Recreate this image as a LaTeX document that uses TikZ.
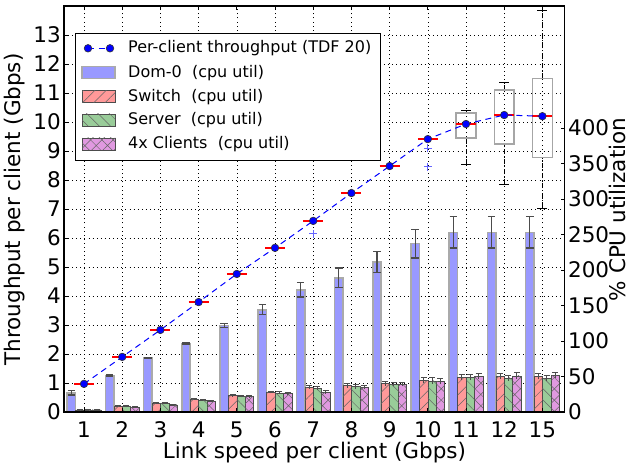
\documentclass[tikz,border=0pt]{standalone}
\usepackage{fontspec}
\setmainfont{DejaVu Sans}
\usetikzlibrary{patterns.meta}
\definecolor{domblue}{RGB}{153,153,255}
\definecolor{swred}{RGB}{255,153,153}
\definecolor{svgreen}{RGB}{153,204,153}
\definecolor{clpink}{RGB}{224,153,224}
\definecolor{baredge}{RGB}{170,170,170}
\tikzset{
  ticklab/.style={font=\fontsize{21.5}{24}\selectfont,inner sep=0pt},
  axlab/.style={font=\fontsize{21.5}{24}\selectfont,inner sep=0pt},
  leglab/.style={font=\fontsize{16}{19}\selectfont,inner sep=0pt,anchor=west},
  gridline/.style={black,line width=0.6pt,dash pattern=on 0.9pt off 3.2pt},
  dombar/.style={fill=domblue,draw=baredge,line width=1.5pt},
  swbar/.style={fill=swred,draw=black!70,line width=0.5pt,
    postaction={pattern color=black!60,pattern={Lines[angle=45,distance=8pt,line width=0.5pt]}}},
  svbar/.style={fill=svgreen,draw=black!70,line width=0.5pt,
    postaction={pattern color=black!60,pattern={Lines[angle=-45,distance=8pt,line width=0.5pt]}}},
  clbar/.style={fill=clpink,draw=black!70,line width=0.5pt,
    postaction={pattern color=black!60,pattern={Hatch[angle=45,distance=8pt,line width=0.5pt]}}},
  errline/.style={black!70,line width=1.3pt},
  thruline/.style={blue,line width=1pt,dash pattern=on 6pt off 4.5pt},
  thrumark/.style={fill=blue,draw=black!80,line width=0.6pt},
  median/.style={red,line width=1.4pt},
  whisker/.style={black,line width=1pt,dash pattern=on 5pt off 2pt on 1pt off 2pt},
  whiskcap/.style={black,line width=1pt},
  boxline/.style={draw=gray!70,line width=1.3pt},
  outlier/.style={blue!60,line width=1pt}
}
\begin{document}
\begin{tikzpicture}[x=1pt,y=1pt]
\path[use as bounding box] (0,0) rectangle (631,468);

% data area: categories along x, Gbps along y
\begin{scope}[shift={(45.8pt,56pt)},x=38.2pt,y=29pt]
\foreach \k in {1,...,13}
  \draw[gridline] (\k,0) -- (\k,14);
\foreach \v in {1,...,13}
  \draw[gridline] (0.476,\v) -- (13.59,\v);

% cpu bars, in percent
\begin{scope}[y=0.71pt]
\foreach \k/\d/\de/\s/\v/\c/\e in {1/27/3/3/3/3/1, 2/51/1/7.5/8/6.5/1, 3/76/1/12/12/10/1,
    4/96/1/18/16.5/15/1, 5/122/3/23/22/21.5/1.5, 6/144/7/28/27/26/1.5, 7/172/10/35/33/28/2.5,
    8/189/14/37/36/35/3, 9/211/15/40/39/39/3, 10/237/20/45/44/43/4, 11/253/22/49/49/50/4,
    12/253/22/50/48/51/4, 13/253/22/50/47/52/4} {
  \draw[dombar] (\k-0.44,0) rectangle (\k-0.22,\d);
  \draw[swbar] (\k-0.22,0) rectangle (\k,\s);
  \draw[svbar] (\k,0) rectangle (\k+0.22,\v);
  \draw[clbar] (\k+0.22,0) rectangle (\k+0.44,\c);
  \draw[errline] (\k-0.33,\d-\de) -- (\k-0.33,\d+\de)
    (\k-0.43,\d-\de) -- (\k-0.23,\d-\de) (\k-0.43,\d+\de) -- (\k-0.23,\d+\de);
  \draw[errline,line width=1pt] (\k-0.11,\s-\e) -- (\k-0.11,\s+\e)
    (\k-0.19,\s+\e) -- (\k-0.03,\s+\e)
    (\k+0.11,\v-\e) -- (\k+0.11,\v+\e) (\k+0.03,\v+\e) -- (\k+0.19,\v+\e)
    (\k+0.33,\c-\e) -- (\k+0.33,\c+\e) (\k+0.25,\c+\e) -- (\k+0.41,\c+\e);
}
\end{scope}

% box plots
\foreach \k/\lo/\qa/\qb/\hi in {11/8.55/9.45/10.31/10.41, 12/7.85/9.24/11.1/11.37,
    13/7.03/8.77/11.5/13.83} {
  \draw[whisker] (\k,\lo) -- (\k,\qa) (\k,\qb) -- (\k,\hi);
  \draw[whiskcap] (\k-0.13,\lo) -- (\k+0.13,\lo) (\k-0.13,\hi) -- (\k+0.13,\hi);
  \draw[boxline] (\k-0.26,\qa) rectangle (\k+0.26,\qb);
}
\foreach \k/\t in {7/6.14, 10/9.1, 10/8.45}
  \draw[outlier] (\k-0.1,\t) -- (\k+0.1,\t) (\k,\t-0.14) -- (\k,\t+0.14);

% throughput
\foreach \k/\t in {1/0.97, 2/1.9, 3/2.83, 4/3.79, 5/4.76, 6/5.66, 7/6.59, 8/7.55,
    9/8.48, 10/9.41, 11/9.93, 12/10.24, 13/10.2} {
  \coordinate (t\k) at (\k,\t);
  \draw[median] (\k-0.26,\t) -- (\k+0.26,\t);
}
\draw[thruline] (t1) \foreach \k in {2,...,13} { -- (t\k) };
\foreach \k in {1,...,13}
  \draw[thrumark] (t\k) circle (3.8pt);

% frame and ticks
\draw[line width=1.1pt] (0.476,0) rectangle (13.59,14);
\foreach \v in {0,...,13} {
  \draw[line width=0.8pt] (0.476,\v) -- ++(4pt,0);
  \node[ticklab,anchor=east] (yl\v) at ([xshift=-3pt]0.476,\v) {\v};
}
\foreach \k/\l in {1/1,2/2,3/3,4/4,5/5,6/6,7/7,8/8,9/9,10/10,11/11,12/12,13/15} {
  \draw[line width=0.8pt] (\k,0) -- ++(0,4pt) (\k,14) -- ++(0,-4pt);
  \node[ticklab,anchor=base] (xl\k) at ([yshift=-25.7pt]\k,0) {\l};
}
\begin{scope}[y=0.71pt]
\foreach \p in {0,50,...,400} {
  \draw[line width=0.8pt] (13.59,\p) -- ++(-4pt,0);
  \node[ticklab,anchor=west] (pl\p) at ([xshift=3pt]13.59,\p) {\p};
}
\end{scope}
\end{scope}

\node[axlab,rotate=90] (ylab) at (15,258.5) {Throughput per client (Gbps)};
\node[axlab,rotate=90,anchor=base,text depth=0pt] (plab) at (625,258.5) {\% CPU utilization};
\node[axlab,anchor=base] (xlab) at (314.5,9.6) {Link speed per client (Gbps)};

% legend
\draw[black,line width=0.8pt,fill=white] (75,308) rectangle (380,435);
\draw[thruline] (88,419.7) -- (110,419.7);
\draw[thrumark] (88,419.7) circle (3.8pt);
\draw[thrumark] (110,419.7) circle (3.8pt);
\node[leglab] (lg1) at (128,419.7) {Per-client throughput (TDF 20)};
\draw[dombar] (82,389.3) rectangle (115,401.3);
\node[leglab] (lg2) at (128,395.3) {Dom-0\ \ (cpu util)};
\draw[swbar] (82,365.3) rectangle (115,377.3);
\node[leglab] (lg3) at (128,371.3) {Switch\ \ (cpu util)};
\draw[svbar] (82,342) rectangle (115,354);
\node[leglab] (lg4) at (128,348) {Server\ \ (cpu util)};
\draw[clbar] (82,318) rectangle (115,330);
\node[leglab] (lg5) at (128,324) {4x Clients\ \ (cpu util)};
\end{tikzpicture}
\end{document}
